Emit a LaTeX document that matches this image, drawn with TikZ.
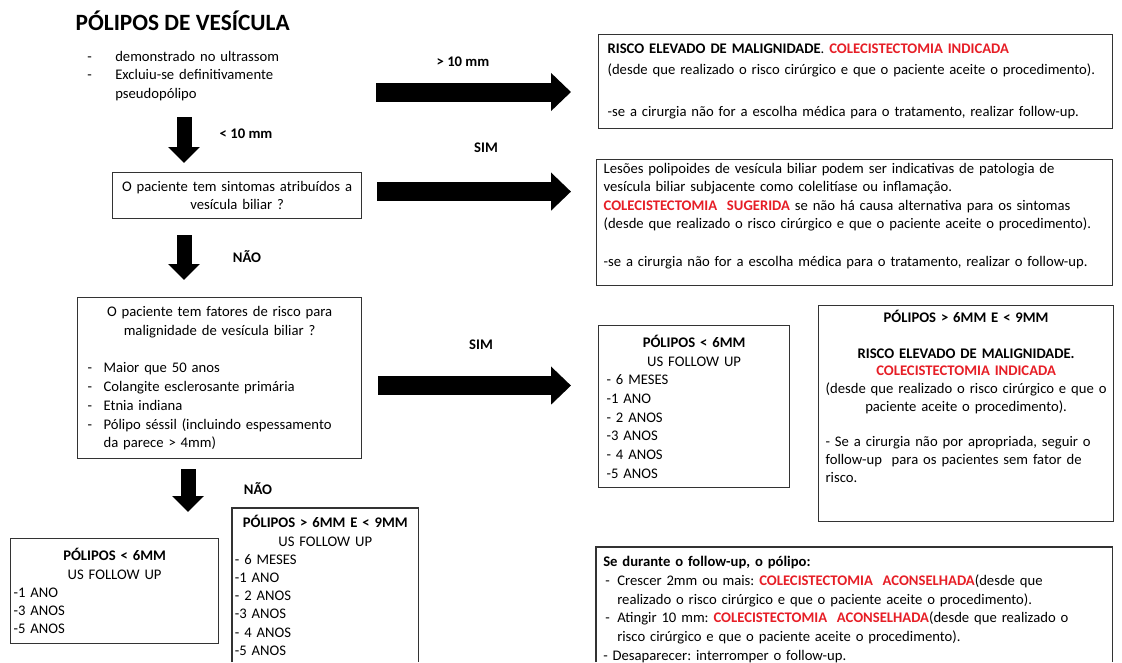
\documentclass[tikz,border=0pt]{standalone}
\usepackage{fontspec}
\setmainfont{Carlito}
\usetikzlibrary{arrows.meta,positioning,calc}

\definecolor{alertred}{RGB}{230,30,38}
\setlength{\parindent}{0pt}
\frenchspacing
\newcommand{\redbf}[1]{\textcolor{alertred}{\textbf{#1}}}
\newcommand{\ctrline}[1]{\leavevmode\hbox to\hsize{\hss#1\hss}}
\newcommand{\dashitem}[1]{\makebox[#1][l]{-}}
\newcommand{\padbelow}[1]{\rule[-#1]{0pt}{#1}}

\begin{document}
\begin{tikzpicture}[
  x=0.75pt, y=-0.75pt,
  font=\fontsize{11}{13.9}\selectfont,
  box/.style={draw=black!80, line width=0.9pt, anchor=north west, align=left,
              inner ysep=0pt},
  boxtext/.style={anchor=north west, align=left},
  boxline/.style={draw=black!80, line width=0.9pt},
  lab/.style={font=\fontsize{11}{13}\selectfont\bfseries},
  downarr/.style={line width=11.25pt, -{Triangle[length=12pt, width=23.25pt]}},
  rightarr/.style={line width=14.25pt, -{Triangle[length=15pt, width=27.75pt]}}
]
\useasboundingbox (0,0) rectangle (1122,662);

% left column
\node[anchor=base west, font=\fontsize{17.5}{20}\selectfont\bfseries] (title) at (71,30)
  {PÓLIPOS DE VESÍCULA};
\node[anchor=base west, align=left, text width=200pt, inner sep=0pt] (intro) at (87,61)
  {\dashitem{21pt}demonstrado no ultrassom\\
   \dashitem{21pt}Excluiu-se definitivamente\\
   \hspace*{21pt}pseudopólipo};

\node[box, minimum width=186.75pt, minimum height=34.5pt, inner xsep=4pt,
      text width=178.75pt, align=center] (symptoms) at (112,172)
  {O paciente tem sintomas atribuídos a\\ vesícula biliar ?};

\node[box, minimum width=213pt, minimum height=120.75pt, inner xsep=7.5pt,
      text width=198pt, font=\fontsize{11}{14.1}\selectfont] (riskfactors) at (77,297)
  {\ctrline{O paciente tem fatores de risco para}\\
   \ctrline{malignidade de vesícula biliar ?}\\[14.1pt]
   \dashitem{12pt}Maior que 50 anos\\
   \dashitem{12pt}Colangite esclerosante primária\\
   \dashitem{12pt}Etnia indiana\\
   \dashitem{12pt}Pólipo séssil (incluindo espessamento\\
   \hspace*{12pt}da parece > 4mm)};

\node[box, minimum width=156pt, minimum height=78.75pt, inner xsep=2.25pt,
      text width=151.5pt, font=\fontsize{11}{13.6}\selectfont] (polsmall) at (10,538)
  {\ctrline{\textbf{PÓLIPOS < 6MM}}\\
   \ctrline{US FOLLOW UP}\\
   -1 ANO\\
   -3 ANOS\\
   -5 ANOS};

\node[boxtext, minimum width=139.5pt, inner xsep=2pt, inner ysep=5.5pt,
      text width=135.5pt, font=\fontsize{11}{13.65}\selectfont] (polmid) at (232,508)
  {\ctrline{\textbf{PÓLIPOS > 6MM E < 9MM}}\\
   \ctrline{US FOLLOW UP}\\
   - 6 MESES\\
   -1 ANO\\
   - 2 ANOS\\
   -3 ANOS\\
   - 4 ANOS\\
   -5 ANOS};
\draw[boxline] (polmid.north west |- 0,662) -- (polmid.north west)
  -- (polmid.north east) -- (polmid.north east |- 0,662);

% right column
\node[box, minimum width=385.5pt, minimum height=70.5pt, inner xsep=6.75pt,
      text width=372pt, font=\fontsize{11}{15.75}\selectfont] (highrisk) at (598,34)
  {\mbox{\textbf{RISCO ELEVADO DE MALIGNIDADE}. \redbf{COLECISTECTOMIA INDICADA}}\\
   \mbox{(desde que realizado o risco cirúrgico e que o paciente aceite o procedimento).}\\[15.75pt]
   \mbox{-se a cirurgia não for a escolha médica para o tratamento, realizar follow-up.}};

\node[box, minimum width=387pt, minimum height=94.5pt, inner xsep=5.25pt,
      text width=376.5pt] (suggested) at (596,159)
  {\mbox{Lesões polipoides de vesícula biliar podem ser indicativas de patologia de}\\
   \mbox{vesícula biliar subjacente como colelitíase ou inflamação.}\\
   \mbox{\redbf{COLECISTECTOMIA\ \ SUGERIDA} se não há causa alternativa para os sintomas}\\
   \mbox{(desde que realizado o risco cirúrgico e que o paciente aceite o procedimento).}\\[13.9pt]
   \mbox{-se a cirurgia não for a escolha médica para o tratamento, realizar o follow-up.}\padbelow{12pt}};

\node[box, minimum width=143.25pt, minimum height=121.5pt, inner xsep=6pt,
      text width=131.25pt, font=\fontsize{11}{14}\selectfont] (fusmall) at (598,325)
  {\ctrline{\textbf{PÓLIPOS < 6MM}}\\
   \ctrline{US FOLLOW UP}\\
   - 6 MESES\\
   -1 ANO\\
   - 2 ANOS\\
   -3 ANOS\\
   - 4 ANOS\\
   -5 ANOS};

\node[box, minimum width=221.25pt, minimum height=162pt, inner xsep=5.25pt,
      text width=210.75pt, font=\fontsize{11}{13.3}\selectfont] (indicated) at (818,305)
  {\ctrline{\textbf{PÓLIPOS > 6MM E < 9MM}}\\[13.3pt]
   \ctrline{\textbf{RISCO ELEVADO DE MALIGNIDADE.}}\\
   \ctrline{\redbf{COLECISTECTOMIA INDICADA}}\\
   \ctrline{(desde que realizado o risco cirúrgico e que o}\\
   \ctrline{paciente aceite o procedimento).}\\[13.3pt]
   - Se a cirurgia não por apropriada, seguir o\\
   follow-up\ \ para os pacientes sem fator de\\
   risco.\padbelow{26pt}};

\node[boxtext, minimum width=387pt, inner xsep=5.25pt, inner ysep=6.75pt,
      text width=376.5pt, font=\fontsize{11}{14.1}\selectfont] (duringfu) at (596,547)
  {\textbf{Se durante o follow-up, o pólipo:}\\
   \mbox{\hspace*{1.5pt}\dashitem{9pt}Crescer 2mm ou mais: \redbf{COLECISTECTOMIA\ \ ACONSELHADA}(desde que}\\
   \mbox{\hspace*{10.5pt}realizado o risco cirúrgico e que o paciente aceite o procedimento).}\\
   \mbox{\hspace*{1.5pt}\dashitem{9pt}Atingir 10 mm: \redbf{COLECISTECTOMIA\ \ ACONSELHADA}(desde que realizado o}\\
   \mbox{\hspace*{10.5pt}risco cirúrgico e que o paciente aceite o procedimento).}\\
   - Desaparecer: interromper o follow-up.};
\draw[boxline] (duringfu.north west |- 0,662) -- (duringfu.north west)
  -- (duringfu.north east) -- (duringfu.north east |- 0,662);

% arrows
\coordinate (dn1) at (184,117);
\coordinate (dn3) at (188,0);
\coordinate (rgt1) at (376,92);

\draw[downarr, shorten >=6.75pt] (dn1) -- (dn1 |- symptoms.north);
\draw[downarr, shorten <=12pt, shorten >=12.75pt] (symptoms.south -| dn1) -- (riskfactors.north -| dn1);
\draw[downarr, shorten <=7.5pt, shorten >=19.5pt] (riskfactors.south -| dn3) -- (polsmall.north -| dn3);

\draw[rightarr, shorten >=20.25pt] (rgt1) -- (rgt1 -| highrisk.west);
\draw[rightarr, shorten <=11.25pt, shorten >=18.75pt]
  ([yshift=3pt]symptoms.east) -- ([yshift=3pt]symptoms.east -| suggested.west);
\draw[rightarr, shorten <=12pt, shorten >=20.25pt]
  ([yshift=-5.6pt]riskfactors.east) -- ([yshift=-5.6pt]riskfactors.east -| fusmall.west);

% labels
\node[lab] (gt10) at (463,62) {> 10 mm};
\node[lab, anchor=west] (lt10) at (215,134) {< 10 mm};
\node[lab] (sim1) at (486,148) {SIM};
\node[lab] (nao1) at (247,257) {NÃO};
\node[lab] (sim2) at (481,345) {SIM};
\node[lab] (nao2) at (258,489) {NÃO};
\end{tikzpicture}
\end{document}
